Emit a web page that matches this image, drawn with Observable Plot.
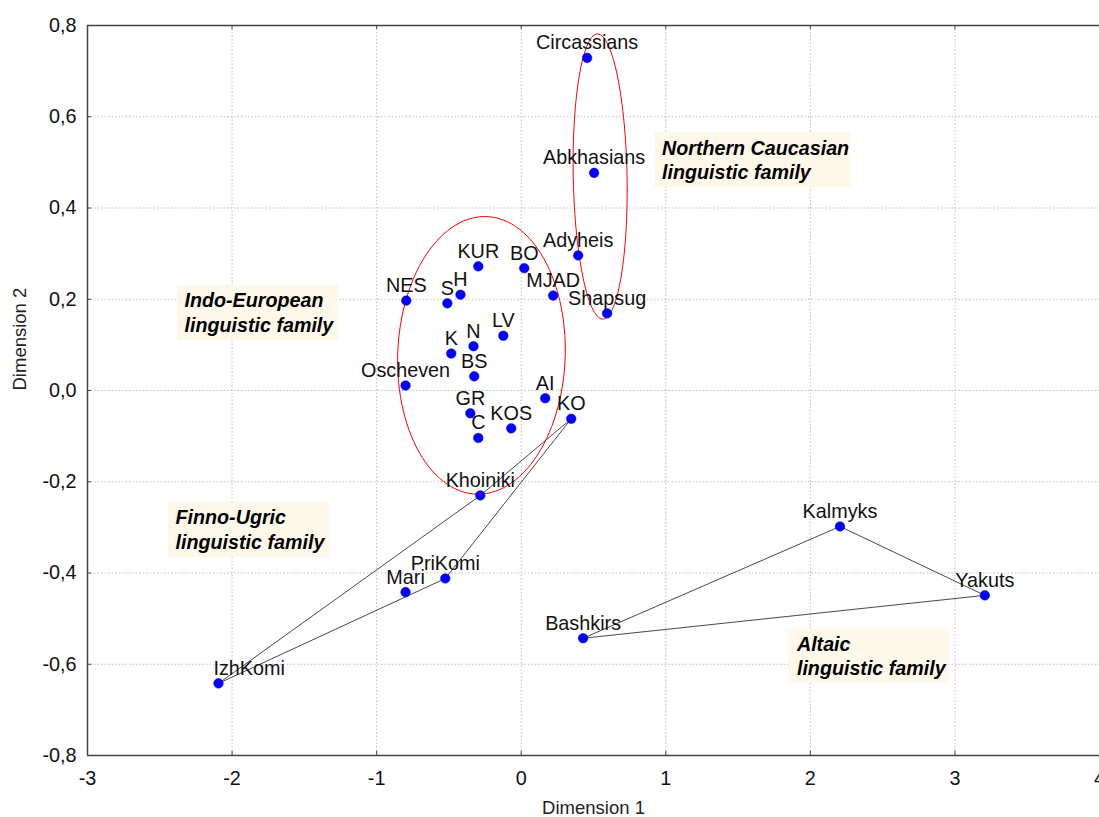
<!DOCTYPE html>
<html><head><meta charset="utf-8">
<script src="https://cdn.jsdelivr.net/npm/d3@7"></script>
<script src="https://cdn.jsdelivr.net/npm/@observablehq/plot@0.6"></script>
<style>body{margin:0;background:#fff;}</style>
</head><body><div id="chart"></div>
<script>
// ---- data ----
const populations = ["Circassians","Abkhasians","Adyheis","Shapsug","BO","MJAD","KUR","NES","S","H","LV","N","K","BS","Oscheven","AI","KO","GR","KOS","C","Khoiniki","PriKomi","Mari","IzhKomi","Kalmyks","Yakuts","Bashkirs"];
const dimension1 = [0.456,0.504,0.394,0.594,0.021,0.221,-0.297,-0.795,-0.511,-0.42,-0.124,-0.33,-0.484,-0.325,-0.80,0.166,0.346,-0.352,-0.069,-0.297,-0.283,-0.525,-0.80,-2.094,2.205,3.207,0.428];
const dimension2 = [0.729,0.477,0.296,0.169,0.268,0.208,0.272,0.197,0.191,0.210,0.120,0.097,0.081,0.031,0.011,-0.017,-0.062,-0.050,-0.083,-0.104,-0.230,-0.412,-0.442,-0.642,-0.298,-0.449,-0.543];

const xTicks = [-3,-2,-1,0,1,2,3,4];
const yTicks = [-0.8,-0.6,-0.4,-0.2,0,0.2,0.4,0.6,0.8];

const finnoUgricHull = ["KO","Khoiniki","IzhKomi","PriKomi","KO"];
const altaicHull = ["Bashkirs","Kalmyks","Yakuts","Bashkirs"];

const familyLabels = ["Indo-European\nlinguistic family","Northern Caucasian\nlinguistic family","Finno-Ugric\nlinguistic family","Altaic\nlinguistic family"];
const familyLabelX = [-2.329, 0.974, -2.391, 1.907];
const familyLabelY = [0.220, 0.555, -0.255, -0.533];
const familyBoxX1 = [-2.377, 0.926, -2.440, 1.852];
const familyBoxX2 = [-1.265, 2.281, -1.327, 2.965];
const familyBoxY1 = [0.110, 0.445, -0.366, -0.642];
const familyBoxY2 = [0.230, 0.565, -0.245, -0.523];

const ellipseGroups = ["Indo-European","Northern Caucasian"];
const ellipseCx = [-0.275, 0.546];
const ellipseCy = [0.077, 0.469];
const ellipseRx = [0.58, 0.187];
const ellipseRy = [0.304, 0.311];
const ellipseTilt = [0.012, -0.03];

// ---- build tables ----
const points = populations.map((name, i) => ({name, x: dimension1[i], y: dimension2[i]}));
const byName = new Map(points.map(d => [d.name, d]));
const hulls = [
  ...finnoUgricHull.map(n => ({...byName.get(n), group: "Finno-Ugric"})),
  ...altaicHull.map(n => ({...byName.get(n), group: "Altaic"}))
];
const families = familyLabels.map((text, i) => ({
  text, x: familyLabelX[i], y: familyLabelY[i],
  x1: familyBoxX1[i], x2: familyBoxX2[i], y1: familyBoxY1[i], y2: familyBoxY2[i]
}));
const ellipses = ellipseGroups.flatMap((group, i) =>
  d3.range(0, 361, 3).map(deg => {
    const t = deg * Math.PI / 180;
    return {
      group,
      x: ellipseCx[i] + ellipseRx[i] * Math.cos(t),
      y: ellipseCy[i] + ellipseRy[i] * Math.sin(t) + ellipseTilt[i] * Math.cos(t)
    };
  })
);

const fmtY = d => d.toFixed(1).replace(".", ",");

const chart = Plot.plot({
  width: 1099,
  height: 817,
  marginLeft: 87,
  marginRight: 0,
  marginTop: 25,
  marginBottom: 62,
  x: {domain: [-3, 4]},
  y: {domain: [-0.8, 0.8]},
  style: {fontFamily: "'Liberation Sans', Arial, sans-serif", fontSize: "19.8px", color: "#111", background: "#fff"},
  marks: [
    Plot.gridX(xTicks.slice(1, -1), {stroke: "#bdbdbd", strokeOpacity: 1, strokeDasharray: "1.5,2"}),
    Plot.gridY(yTicks.slice(1, -1), {stroke: "#bdbdbd", strokeOpacity: 1, strokeDasharray: "1.5,2"}),
    Plot.rect(families, {x1: "x1", x2: "x2", y1: "y1", y2: "y2", fill: "#fdf8ea"}),
    Plot.line(ellipses, {x: "x", y: "y", z: "group", stroke: "#ff0000", strokeWidth: 1, curve: "linear"}),
    Plot.line(hulls, {x: "x", y: "y", z: "group", stroke: "#333", strokeWidth: 0.9}),
    Plot.dot(points, {x: "x", y: "y", r: 4.8, fill: "#0000ff", stroke: "#0000cc", strokeWidth: 0.5}),
    Plot.text(points.filter(d => d.name !== "IzhKomi"), {x: "x", y: "y", text: "name", dy: -15, fill: "#111"}),
    Plot.text(points.filter(d => d.name === "IzhKomi"), {x: "x", y: "y", text: "name", dy: -15, dx: -5, textAnchor: "start", fill: "#111"}),
    Plot.text(families, {x: "x", y: "y", text: "text", textAnchor: "start", lineAnchor: "top", lineHeight: 1.24, fontSize: 19.7, fontWeight: "bold", fontStyle: "italic", fill: "#000"}),
    Plot.ruleX([-3], {stroke: "#444", strokeWidth: 1.5}),
    Plot.ruleY([-0.8, 0.8], {stroke: "#444", strokeWidth: 1.5}),
    Plot.ruleX(xTicks.slice(1), {y1: 0.8, y2: 0.791, stroke: "#444"}),
    Plot.ruleX(xTicks.slice(1), {y1: -0.8, y2: -0.791, stroke: "#444"}),
    Plot.ruleY(yTicks, {x1: -3, x2: -2.972, stroke: "#444"}),
    Plot.axisX({ticks: xTicks, tickSize: 0, tickPadding: 15, tickFormat: d => String(d), label: null, fill: "#111"}),
    Plot.axisY({ticks: yTicks, tickSize: 0, tickPadding: 11, tickFormat: fmtY, label: null, fill: "#111"}),
    Plot.text(["Dimension 1"], {frameAnchor: "bottom", dy: 58, fill: "#222", fontSize: 18.5}),
    Plot.text(["Dimension 2"], {frameAnchor: "left", dx: -67, rotate: -90, fill: "#222", fontSize: 18.5})
  ]
});
document.getElementById("chart").appendChild(chart);
</script>
</body></html>
